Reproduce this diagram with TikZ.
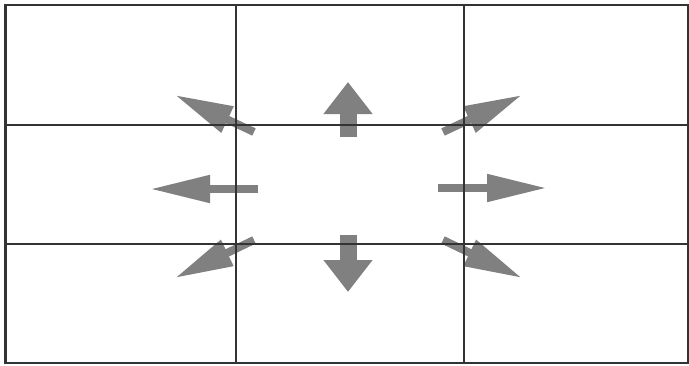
\documentclass[tikz,border=0pt]{standalone}
\usetikzlibrary{arrows.meta}
\begin{document}
\begin{tikzpicture}[x=1pt,y=-1pt,
  gridline/.style={draw=black!80,line width=2pt},
  bigarrow/.style={draw=black!50,line width=17pt,-{Triangle[length=32pt,width=47pt]}},
  thinarrow/.style={draw=black!50,line width=8pt,-{Triangle[length=60pt,width=26pt]}},
  diagarrow/.style={draw=black!50,line width=8pt,-{Triangle[length=58pt,width=27pt]}}]
\useasboundingbox (0,0) rectangle (689,365);
\fill[white] (0,0) rectangle (689,365);
% coordinates
\coordinate (upT) at (348,137);   \coordinate (upH) at (348,82);
\coordinate (dnT) at (348,235);   \coordinate (dnH) at (348,292);
\coordinate (lfT) at (258,189);   \coordinate (lfH) at (150,189);
\coordinate (rtT) at (438,188);   \coordinate (rtH) at (547,188);
\coordinate (ulT) at (254,132);   \coordinate (ulH) at (175,95);
\coordinate (urT) at (443,132);   \coordinate (urH) at (522,95);
\coordinate (llT) at (254,240);   \coordinate (llH) at (175,278);
\coordinate (lrT) at (443,240);   \coordinate (lrH) at (522,278);
% arrows
\draw[bigarrow] (upT) -- (upH);
\draw[bigarrow] (dnT) -- (dnH);
\draw[thinarrow] (lfT) -- (lfH);
\draw[thinarrow] (rtT) -- (rtH);
\draw[diagarrow] (ulT) -- (ulH);
\draw[diagarrow] (urT) -- (urH);
\draw[diagarrow] (llT) -- (llH);
\draw[diagarrow] (lrT) -- (lrH);
% grid (on top of arrows)
\draw[gridline] (5,5) rectangle (688,363);
\draw[gridline,line width=3pt] (5,5) -- (5,363);
\draw[gridline] (236,5) -- (236,363);
\draw[gridline] (464,5) -- (464,363);
\draw[gridline] (5,125) -- (688,125);
\draw[gridline] (5,244) -- (688,244);
\end{tikzpicture}
\end{document}
